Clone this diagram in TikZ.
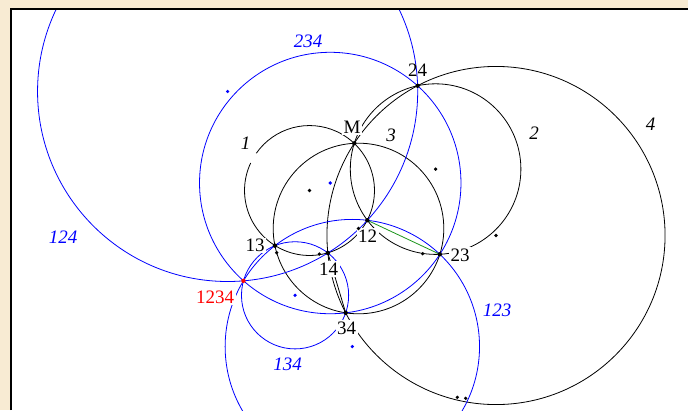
\documentclass[tikz,border=0pt]{standalone}
\usepackage{fontspec}
\setmainfont{Liberation Serif}
\usetikzlibrary{calc}
\definecolor{paper}{HTML}{F8EBD3}
\definecolor{grn}{HTML}{1C961C}

\begin{document}
\begin{tikzpicture}[x=1pt,y=-1pt,font=\fontsize{19}{22}\selectfont,
    circ/.style={line width=0.8pt},
    bcirc/.style={blue,line width=0.8pt},
    lab/.style={fill=white,inner sep=1.5pt},
    dot/.style={circle,fill,inner sep=0pt,minimum size=4.4pt}]
  \useasboundingbox (0,0) rectangle (688,410);
  \fill[paper] (0,0) rectangle (688,410);
  \fill[white] (11,9) rectangle (688,410);
  \coordinate (M) at (354.3,143.3);
  \coordinate (c1) at (309.5,190.5); \coordinate (c2) at (435.6,169.1);
  \coordinate (c3) at (358.5,228.5); \coordinate (c4) at (496,235.5);
  \foreach \i/\j in {1/2,1/3,1/4,2/3,2/4,3/4}{
    \coordinate (f\i\j) at ($(c\i)!(M)!(c\j)$);
    \coordinate (p\i\j) at ($(M)!2!(f\i\j)$);}
  \foreach \k/\ia/\ib/\ic in {123/12/13/23,124/12/14/24,134/13/14/34,234/23/24/34}{
    \coordinate (u\k) at ($(p\ia)!0.5!(p\ib)$);
    \coordinate (v\k) at ($(u\k)!1!90:(p\ib)$);
    \coordinate (w\k) at ($(p\ia)!0.5!(p\ic)$);
    \coordinate (z\k) at ($(w\k)!1!90:(p\ic)$);
    \coordinate (o\k) at (intersection cs:first line={(u\k)--(v\k)},second line={(w\k)--(z\k)});}
  \coordinate (g) at ($(o124)!(p14)!(o134)$);
  \coordinate (p1234) at ($(p14)!2!(g)$);
  \begin{scope}
    \clip (12,10) rectangle (688,410);
    \draw[circ] let \p1=($(M)-(c1)$),\n1={veclen(\x1,\y1)} in
      (c1) ++(155:\n1) arc[start angle=155,end angle=505,radius=\n1];
    \foreach \i in {2,3,4}
      \draw[circ] let \p1=($(M)-(c\i)$) in (c\i) circle[radius={veclen(\x1,\y1)}];
    \foreach \k/\q in {123/12,124/12,134/13,234/23}
      \draw[bcirc] let \p1=($(p\q)-(o\k)$) in (o\k) circle[radius={veclen(\x1,\y1)}];
    \draw[circ] (p14) -- (p34);
    \draw[grn,line width=0.8pt] (p12) -- (p23);
    \foreach \s/\x/\y in {M/352/127,12/367.5/236,13/255/245.5,14/328.5/269,23/460/255,34/346.5/328}
      \node[lab] (l\s) at (\x,\y) {\s};
    \node[inner sep=1.5pt] (l24) at (417.5,70) {24};
    \node[lab,text=red] (l1234) at (215,297.5) {1234};
    \foreach \s/\x/\y in {1/245.5/143,2/534/133.5,3/391/135,4/650.5/124}
      \node[lab] (k\s) at (\x,\y) {\textit{\s}};
    \foreach \s/\x/\y in {123/497/310.5,124/63/237,134/287.5/364,234/308/41.5}
      \node[lab,text=blue] (k\s) at (\x,\y) {\textit{\s}};
    \foreach \q in {c1,c2,c3,c4}
      \node[dot,minimum size=3.6pt] at (\q) {};
    \foreach \x/\y in {276.7/252.7,319.3/254,422.7/253.7,457.3/397.3,465.7/398.3}
      \node[dot,minimum size=3.6pt] at (\x,\y) {};
    \foreach \k in {123,124,134,234}
      \node[dot,blue,minimum size=3.6pt] at (o\k) {};
    \foreach \q in {M,p12,p13,p14,p23,p24,p34}
      \node[dot] at (\q) {};
    \node[dot,red] at (p1234) {};
  \end{scope}
  \draw[line width=2pt] (11,410) -- (11,9) -- (688,9);
\end{tikzpicture}
\end{document}
